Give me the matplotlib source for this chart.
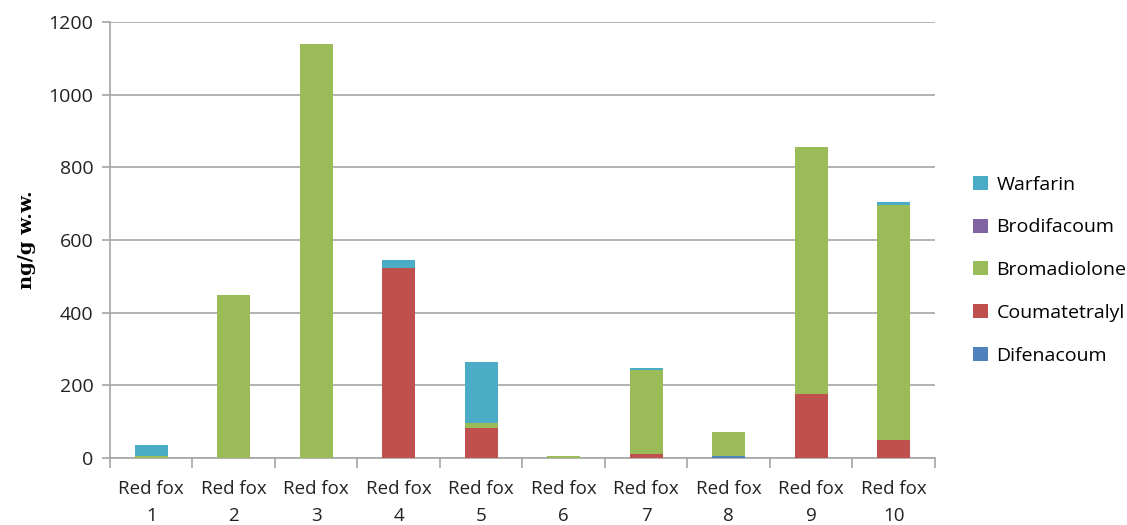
import matplotlib
matplotlib.use("Agg")
import matplotlib.pyplot as plt
import numpy as np

categories = ["Red fox\n1", "Red fox\n2", "Red fox\n3", "Red fox\n4", "Red fox\n5",
              "Red fox\n6", "Red fox\n7", "Red fox\n8", "Red fox\n9", "Red fox\n10"]

# stacked from the bottom up
difenacoum = [0, 0, 0, 0, 0, 0, 0, 5, 0, 0]
coumatetralyl = [0, 0, 0, 523, 83, 0, 10, 0, 176, 50]
bromadiolone = [5, 450, 1140, 0, 14, 5, 233, 67, 680, 646]
brodifacoum = [0, 0, 0, 0, 0, 0, 0, 0, 0, 0]
warfarin = [30, 0, 0, 22, 168, 0, 5, 0, 0, 10]

series = [
    ("Difenacoum", difenacoum, "#4F81BD"),
    ("Coumatetralyl", coumatetralyl, "#C0504D"),
    ("Bromadiolone", bromadiolone, "#9BBB59"),
    ("Brodifacoum", brodifacoum, "#8064A2"),
    ("Warfarin", warfarin, "#4BACC6"),
]

plt.rcParams["font.family"] = ["Open Sans", "DejaVu Sans"]

fig = plt.figure(figsize=(11.27, 5.25), dpi=100)
ax = fig.add_axes([0.0976, 0.1276, 0.7320, 0.8304])

x = np.arange(len(categories))
bottom = np.zeros(len(categories))
handles = []
for name, vals, color in series:
    vals = np.array(vals, dtype=float)
    h = ax.bar(x, vals, width=0.4, bottom=bottom, color=color, label=name,
               edgecolor="none", zorder=3)
    handles.append(h)
    bottom += vals

ax.set_xlim(-0.5, len(categories) - 0.5)
ax.set_ylim(0, 1200)
ax.set_yticks(np.arange(0, 1201, 200))
ax.yaxis.grid(True, color="#A6A6A6", linewidth=1.2, zorder=0)
ax.set_axisbelow(True)

ax.set_xticks(x)
ax.set_xticklabels(categories, fontsize=13.5, color="#222222", linespacing=1.6)
ax.set_xticks(np.arange(-0.5, len(categories), 1), minor=True)
ax.tick_params(axis="x", which="major", length=0, pad=16)
ax.tick_params(axis="x", which="minor", length=7, width=1.2, color="#A6A6A6")
ax.tick_params(axis="y", length=6, width=1.2, color="#A6A6A6", labelsize=14,
               labelcolor="#222222", pad=6)

for side in ("top", "right"):
    ax.spines[side].set_visible(False)
for side in ("left", "bottom"):
    ax.spines[side].set_color("#A6A6A6")
    ax.spines[side].set_linewidth(1.2)

ax.set_ylabel("ng/g w.w.", fontsize=14, fontweight="bold",
              family="DejaVu Serif", labelpad=9)

leg = ax.legend(handles[::-1], [s[0] for s in series][::-1],
                loc="center left", bbox_to_anchor=(1.025, 0.431),
                frameon=False, fontsize=14, handlelength=0.75, handleheight=0.75,
                handletextpad=0.45, labelspacing=1.27)

fig.savefig("out.png", dpi=100, facecolor="white")
